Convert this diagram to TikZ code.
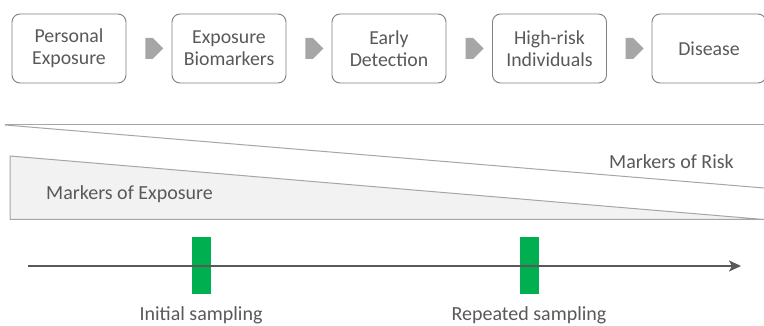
\documentclass[tikz,border=0pt]{standalone}
\usepackage{fontspec}
\setmainfont{Carlito}
\usetikzlibrary{shapes.arrows,arrows.meta,calc}
\definecolor{txt}{HTML}{595959}
\definecolor{bord}{HTML}{808080}
\definecolor{lgray}{HTML}{F2F2F2}
\definecolor{agray}{HTML}{A6A6A6}
\definecolor{sgreen}{HTML}{00B050}
\tikzset{
  stagebox/.style={draw=bord, line width=0.9pt, rounded corners=8pt, minimum width=114pt, minimum height=69pt, align=center, text=txt, font=\fontsize{19.8}{22}\selectfont, inner sep=0pt},
  blockarrow/.style={single arrow, fill=agray, draw=none, minimum height=18pt, minimum width=21pt, single arrow head extend=0pt, inner sep=0pt, single arrow tip angle=90},
  lbl/.style={text=txt, font=\fontsize{20}{24}\selectfont, inner sep=0pt},
  gbar/.style={fill=sgreen, draw=none, minimum width=19pt, minimum height=56pt, inner sep=0pt}
}
\begin{document}
\begin{tikzpicture}[x=1pt,y=-1pt]
\useasboundingbox[fill=white] (0,0) rectangle (764,326);
% stage boxes
\node[stagebox] (b1) at (69,48.5) {Personal\\Exposure};
\node[stagebox] (b2) at (229,48.5) {Exposure\\Biomarkers};
\node[stagebox] (b3) at (389,48.5) {Early\\Detection};
\node[stagebox] (b4) at (549.5,48.5) {High-risk\\Individuals};
\node[stagebox] (b5) at (709,48.5) {Disease};
% block arrows
\node[blockarrow] (a1) at ($(b1.east)!0.5!(b2.west)$) {};
\node[blockarrow] (a2) at ($(b2.east)!0.5!(b3.west)$) {};
\node[blockarrow] (a3) at ($(b3.east)!0.5!(b4.west)$) {};
\node[blockarrow] (a4) at ($(b4.east)!0.5!(b5.west)$) {};
% markers of risk
\coordinate (r1) at (5,125);
\coordinate (r2) at (764,125);
\coordinate (r3) at (764,188);
\draw[agray, line width=1pt] (r1) -- (r2);
\draw[agray, line width=1pt] (r1) -- (r3);
\node[lbl, anchor=east] (risk) at (734,162) {Markers of Risk};
% markers of exposure
\coordinate (e1) at (10,156);
\coordinate (e2) at (764,219.5);
\coordinate (e3) at (10,219.5);
\filldraw[fill=lgray, draw=agray, line width=1pt] (e1) -- (e2) -- (e3) -- cycle;
\node[lbl, anchor=west] (expo) at (46,194) {Markers of Exposure};
% timeline
\node[gbar] (g1) at (201.5,265.5) {};
\node[gbar] (g2) at (529.5,265.5) {};
\coordinate (t0) at (28,266);
\coordinate (t1) at (741,266);
\draw[txt, line width=1.6pt, -{Stealth[length=12pt,width=11pt,inset=3pt]}] (t0) -- (t1);
\node[lbl, anchor=base] (s1) at (201,320) {Initial sampling};
\node[lbl, anchor=base] (s2) at (529,320) {Repeated sampling};
\end{tikzpicture}
\end{document}
